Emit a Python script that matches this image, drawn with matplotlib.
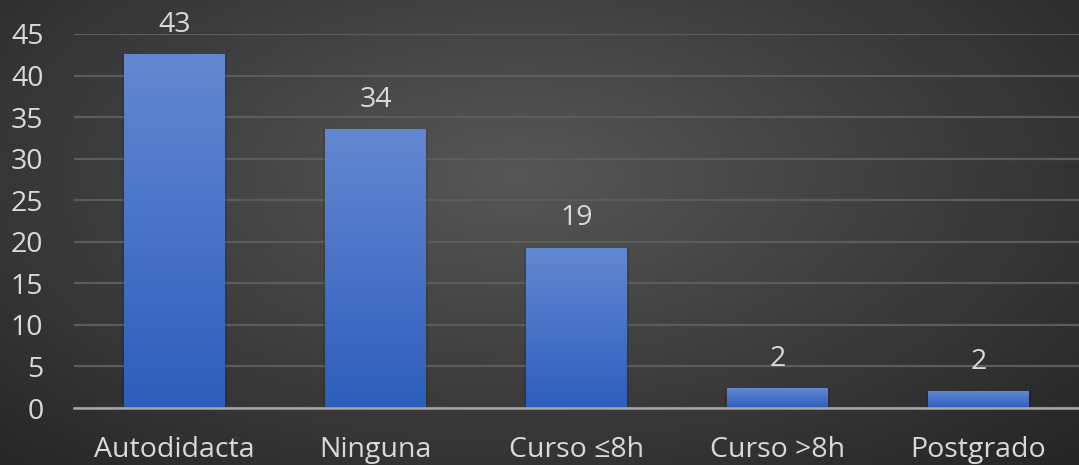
import matplotlib.pyplot as plt
import numpy as np
from matplotlib.colors import LinearSegmentedColormap

categories = ['Autodidacta', 'Ninguna', 'Curso ≤8h', 'Curso >8h', 'Postgrado']
values = [42.6, 33.6, 19.3, 2.4, 2.0]
y_ticks = [0, 5, 10, 15, 20, 25, 30, 35, 40, 45]

TEXT = '#d9d9d9'
FONT = ['Open Sans', 'DejaVu Sans']

plt.rcParams['font.family'] = FONT

fig = plt.figure(figsize=(10.79, 4.65), dpi=100)

# dark radial background, lighter towards the upper middle
bg = fig.add_axes([0, 0, 1, 1], zorder=-10)
gx, gy = np.meshgrid(np.linspace(0, 1, 540), np.linspace(0, 1, 233))
dist = np.sqrt(((gx - 0.48) / 0.75) ** 2 + ((gy - 0.38) / 0.9) ** 2)
shade = np.clip(0.34 - 0.2 * dist, 0.15, 0.35)
bg.imshow(np.dstack([shade] * 3), aspect='auto', extent=[0, 1, 0, 1],
          origin='upper', interpolation='bicubic')
bg.set_axis_off()

ax = fig.add_axes([74 / 1079, 1 - 408 / 465, 1 - 74 / 1079, (408 - 34) / 465])
ax.patch.set_alpha(0)

x = np.arange(len(categories))
bars = ax.bar(x, values, width=0.5, color='#4a76c9', zorder=3)

# vertical gradient on each bar
grad_cmap = LinearSegmentedColormap.from_list('bar', ['#2d5ebd', '#6388d1'])
grad = np.linspace(0, 1, 256).reshape(-1, 1)
for rect in bars:
    x0, w, h = rect.get_x(), rect.get_width(), rect.get_height()
    # soft shadow behind the bar
    ax.bar(x0 + w / 2, h + 0.2, width=w + 0.02, bottom=-0.2,
           color='black', alpha=0.1, zorder=2)
    img = ax.imshow(grad, cmap=grad_cmap, origin='lower', aspect='auto',
                    extent=[x0, x0 + w, 0, h], zorder=4)
    img.set_clip_path(rect)

for xi, v in zip(x, values):
    ax.annotate(f'{v:.0f}', (xi, v), xytext=(0, 21), textcoords='offset points',
                ha='center', va='center', fontsize=20.5, color=TEXT)

ax.set_xlim(-0.5, len(categories) - 0.5)
ax.set_ylim(0, 45)
ax.set_yticks(y_ticks)
ax.set_xticks(x)
ax.set_xticklabels(categories)
ax.tick_params(axis='both', length=0, colors=TEXT, labelsize=20.5)
ax.tick_params(axis='x', pad=20)
ax.tick_params(axis='y', pad=22)
for lbl in ax.get_yticklabels():
    lbl.set_horizontalalignment('right')

ax.yaxis.grid(True, color='#5c5c5c', linewidth=1.6, zorder=1)
ax.set_axisbelow(True)
for side in ['top', 'right', 'left']:
    ax.spines[side].set_visible(False)
ax.spines['bottom'].set_color('#a6a6a6')
ax.spines['bottom'].set_linewidth(1.8)
ax.spines['bottom'].set_zorder(5)

fig.savefig('out.png', dpi=100)
